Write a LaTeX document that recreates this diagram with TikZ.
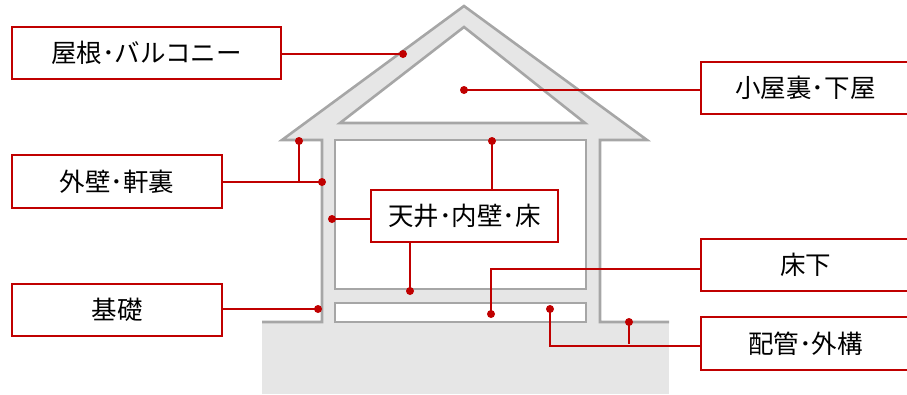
\documentclass[tikz,border=0pt]{standalone}
\usepackage{fontspec}
\setmainfont{Noto Sans CJK JP}
\usetikzlibrary{calc}
\definecolor{wallfill}{HTML}{E6E6E6}
\definecolor{wallline}{HTML}{A6A6A6}
\definecolor{tagred}{HTML}{C00000}
\begin{document}
\begin{tikzpicture}[x=1pt,y=-1pt,
  wall/.style={draw=wallline,line width=2.6pt,line join=miter},
  cavity/.style={wall,fill=white},
  tag/.style={draw=tagred,line width=2.8pt,fill=white,rectangle,inner sep=0pt,
    font=\fontsize{25.5}{30}\selectfont},
  lead/.style={draw=tagred,line width=2pt},
  pin/.style={circle,fill=tagred,inner sep=0pt,minimum size=8pt}]
\useasboundingbox (0,0) rectangle (907,394);
\clip (0,0) rectangle (907,394);

% ground
\fill[wallfill] (262,322) rectangle (669,394);
% house body: roof and walls
\fill[wallfill] (282,140) -- (464,6) -- (647,140) -- (600,140) -- (600,322)
  -- (322,322) -- (322,140) -- cycle;
\draw[wall] (262,322) -- (322,322) -- (322,140) -- (282,140) -- (464,6)
  -- (647,140) -- (600,140) -- (600,322) -- (669,322);
% attic, living room and crawl space
\draw[cavity] (340,123) -- (464,27) -- (585,123) -- cycle;
\draw[cavity] (335,140) rectangle (586,289);
\draw[cavity] (335,303) rectangle (586,322);

% label boxes
\node[tag,minimum width=269pt,minimum height=52pt] (roof)   at (146.5,53)  {屋根･バルコニー};
\node[tag,minimum width=210pt,minimum height=53pt] (outer)  at (117,181.5) {外壁･軒裏};
\node[tag,minimum width=210pt,minimum height=52pt] (found)  at (117,310)   {基礎};
\node[tag,minimum width=209pt,minimum height=52pt] (attic)  at (805.5,88)  {小屋裏･下屋};
\node[tag,minimum width=209pt,minimum height=52pt] (under)  at (805.5,265) {床下};
\node[tag,minimum width=209pt,minimum height=53pt] (pipe)   at (805.5,343.5) {配管･外構};

% pins
\node[pin] (p-roof)  at (403,54)  {};
\node[pin] (p-attic) at (464,90)  {};
\node[pin] (p-eave)  at (299,141) {};
\node[pin] (p-wall)  at (322,182) {};
\node[pin] (p-inner) at (332,219) {};
\node[pin] (p-ceil)  at (492,141) {};
\node[pin] (p-floor) at (410,291) {};
\node[pin] (p-found) at (318,309) {};
\node[pin] (p-under) at (491,314) {};
\node[pin] (p-pipe)  at (550,309) {};
\node[pin] (p-ext)   at (629,322) {};

% leader lines
\draw[lead] (p-roof.center) -- (p-roof.center -| roof.east);
\draw[lead] (p-attic.center) -- (p-attic.center -| attic.west);
\draw[lead] (p-wall.center) -- (p-wall.center -| outer.east);
\draw[lead] (p-eave.center) -- (p-eave.center |- p-wall.center);
\draw[lead] (p-found.center) -- (p-found.center -| found.east);
\draw[lead] (p-under.center) |- ($(under.west)+(0,3.5)$);
\draw[lead] (p-pipe.center) |- ($(pipe.west)+(0,2)$);
\draw[lead] (p-ext.center) -- (p-ext.center |- pipe.west);

% interior box sits over its own leaders
\node[tag,minimum width=187pt,minimum height=52pt] (inner) at (464.5,216) {天井･内壁･床};
\draw[lead] (p-inner.center) -- (p-inner.center -| inner.west);
\draw[lead] (p-ceil.center) -- (p-ceil.center |- inner.north);
\draw[lead] (p-floor.center) -- (p-floor.center |- inner.south);
\end{tikzpicture}
\end{document}
